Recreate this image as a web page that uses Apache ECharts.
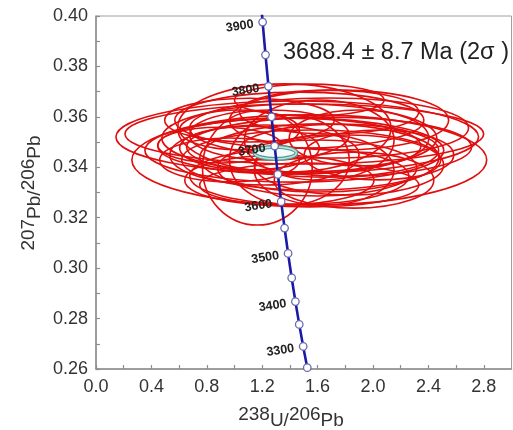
<!DOCTYPE html>
<html>
<head>
<meta charset="utf-8">
<script src="https://cdn.jsdelivr.net/npm/echarts@6/dist/echarts.min.js"></script>
<style>
html,body{margin:0;padding:0;background:#fff;}
#chart{width:513px;height:430px;}
</style>
</head>
<body>
<div id="chart"></div>
<script>
// Concordia (Tera-Wasserburg) age marks, Ma
const ages  = [3950, 3900, 3850, 3800, 3750, 3700, 3650, 3600, 3550, 3500, 3450, 3400, 3350, 3300, 3250];
const concX = [1.18275, 1.20304, 1.22387, 1.24527, 1.26725, 1.28984, 1.31307, 1.33697, 1.36155, 1.38686, 1.41291, 1.43975, 1.46742, 1.49594, 1.52535];
const concY = [0.41105, 0.39759, 0.38461, 0.37210, 0.36003, 0.34840, 0.33715, 0.32635, 0.31590, 0.30583, 0.29611, 0.28674, 0.27769, 0.26897, 0.26054];

// Analysis error ellipses: centre (238U/206Pb, 207Pb/206Pb) and half-axes
const ellCx = [1.453, 1.504, 1.540, 1.432, 1.396, 1.468, 1.360, 1.216, 1.468, 1.683, 1.612, 1.468, 1.165, 1.755, 1.827, 1.683, 1.252, 1.108, 1.612, 1.899, 1.324, 1.036, 1.540, 1.863, 0.964, 1.396, 2.043, 1.108, 1.755, 0.892, 1.540, 1.647, 1.683, 1.554, 1.597];
const ellCy = [0.3520, 0.3532, 0.3429, 0.3468, 0.3484, 0.3516, 0.3556, 0.3449, 0.3587, 0.3556, 0.3437, 0.3365, 0.3397, 0.3468, 0.3409, 0.3619, 0.3528, 0.3476, 0.3508, 0.3516, 0.3349, 0.3548, 0.3330, 0.3349, 0.3429, 0.3429, 0.3449, 0.3587, 0.3587, 0.3488, 0.3667, 0.3389, 0.3480, 0.3429, 0.3397];
const ellRx = [1.309, 1.295, 1.281, 1.079, 0.950, 0.993, 0.770, 0.683, 0.899, 1.007, 0.863, 0.791, 0.396, 0.719, 0.683, 0.647, 0.576, 0.504, 0.540, 0.504, 0.683, 0.432, 0.791, 0.576, 0.504, 0.432, 0.540, 0.612, 0.791, 0.446, 0.540, 0.504, 1.029, 0.935, 0.719];
const ellRy = [0.0143, 0.0119, 0.0179, 0.0127, 0.0111, 0.0135, 0.0175, 0.0119, 0.0111, 0.0119, 0.0135, 0.0111, 0.0226, 0.0103, 0.0119, 0.0087, 0.0099, 0.0087, 0.0159, 0.0111, 0.0099, 0.0079, 0.0087, 0.0111, 0.0087, 0.0178, 0.0099, 0.0087, 0.0119, 0.0071, 0.0063, 0.0139, 0.0119, 0.0119, 0.0111];

// Concordia age ellipse
const ageCx = [1.2955];
const ageCy = [0.3457];
const ageRx = [0.151];
const ageRy = [0.0024];

const ageText = '3688.4 \u00b1 8.7 Ma (2\u03c3 )';
// axis titles: [text, isSuperscript]
const xTitleParts = [['238', true], ['U/', false], ['206', true], ['Pb', false]];
const yTitleParts = [['207', true], ['Pb/', false], ['206', true], ['Pb', false]];

const FONT = '"Liberation Sans", Arial, Helvetica, sans-serif';
const TITLE_SIZE = 19;

const chart = echarts.init(document.getElementById('chart'), null, {renderer: 'canvas'});

const mctx = document.createElement('canvas').getContext('2d');
function textWidth(t, size) {
  mctx.font = size + 'px ' + FONT;
  return mctx.measureText(t).width;
}

// builds a group of text pieces with raised superscripts, centred at local origin
function titleGroup(parts, x, y, rotation) {
  const widths = parts.map(p => textWidth(p[0], TITLE_SIZE));
  const total = widths.reduce((a, b) => a + b, 0);
  let cur = -total / 2;
  const children = parts.map((p, i) => {
    const el = {
      type: 'text', x: cur, y: p[1] ? -6.5 : 0,
      style: {text: p[0], fontSize: TITLE_SIZE, fontFamily: FONT, fill: '#333', align: 'left', verticalAlign: 'middle'}
    };
    cur += widths[i];
    return el;
  });
  return {type: 'group', x: x, y: y, rotation: rotation || 0, z: 100, children: children};
}

function ellipseRenderer(stroke, width, fill) {
  return function (params, api) {
    const c = api.coord([api.value(0), api.value(1)]);
    const s = api.size([api.value(2), api.value(3)]);
    return {
      type: 'ellipse',
      shape: {cx: c[0], cy: c[1], rx: s[0], ry: s[1]},
      style: {fill: fill || 'none', stroke: stroke, lineWidth: width}
    };
  };
}

const redData = ellCx.map((v, i) => [v, ellCy[i], ellRx[i], ellRy[i]]);
const ageData = ageCx.map((v, i) => [v, ageCy[i], ageRx[i], ageRy[i]]);

const concData = ages.map((a, i) => ({
  value: [concX[i], concY[i]],
  symbol: i === 0 ? 'none' : 'circle',
  label: {show: i > 0 && a % 100 === 0}
}));

const axisGray = '#8d8d8d';

chart.setOption({
  animation: false,
  backgroundColor: '#fff',
  grid: {left: 96, right: 1.5, top: 16, bottom: 61, show: true, borderColor: '#a0a0a0', borderWidth: 1, backgroundColor: 'transparent'},
  xAxis: {
    type: 'value', min: 0, max: 3.0, interval: 0.2,
    axisLine: {show: true, onZero: false, lineStyle: {color: axisGray, width: 1.5}},
    axisTick: {show: true, inside: true, length: 4, lineStyle: {color: axisGray, width: 1.2}},
    splitLine: {show: false},
    axisLabel: {
      margin: 9, color: '#333', fontSize: 18, fontFamily: FONT, showMaxLabel: false,
      formatter: v => (Math.round(v * 10) % 4 === 0 ? v.toFixed(1) : '')
    }
  },
  yAxis: {
    type: 'value', min: 0.26, max: 0.40, interval: 0.02,
    axisLine: {show: true, onZero: false, lineStyle: {color: axisGray, width: 1.5}},
    axisTick: {show: true, inside: true, length: 4, lineStyle: {color: axisGray, width: 1.2}},
    minorTick: {show: true, splitNumber: 2, length: 4, lineStyle: {color: axisGray, width: 1.2}},
    splitLine: {show: false},
    axisLabel: {margin: 8, color: '#333', fontSize: 18, fontFamily: FONT, formatter: v => v.toFixed(2)}
  },
  graphic: [
    {
      type: 'text', left: 283, top: 41, z: 100,
      style: {text: ageText, fontSize: 23.5, fontFamily: FONT, fill: '#222'}
    },
    titleGroup(xTitleParts, 291, 421, 0),
    titleGroup(yTitleParts, 35, 193, Math.PI / 2)
  ],
  series: [
    {
      type: 'custom', name: 'analyses', z: 2, clip: true,
      encode: {x: 0, y: 1},
      renderItem: ellipseRenderer('#e00e0e', 1.6),
      data: redData
    },
    {
      type: 'custom', name: 'ageOuter', z: 3,
      encode: {x: 0, y: 1},
      renderItem: ellipseRenderer('#4f9a92', 4, '#f4fbfa'),
      data: ageData
    },
    {
      type: 'custom', name: 'ageInner', z: 3,
      encode: {x: 0, y: 1},
      renderItem: ellipseRenderer('#b9e2dc', 1.6),
      data: ageData
    },
    {
      type: 'line', name: 'concordia', z: 5, clip: true,
      data: concData,
      symbol: 'circle', symbolSize: 7.5,
      itemStyle: {color: '#ffffff', borderColor: '#6a6ab0', borderWidth: 1.3},
      lineStyle: {color: '#1a1aa6', width: 2.6},
      label: {
        position: 'left', distance: 5, rotate: 9,
        fontSize: 12.5, fontWeight: 'bold', fontFamily: FONT, color: '#222',
        offset: [0, 2],
        formatter: p => String(ages[p.dataIndex])
      },
      emphasis: {disabled: true}
    }
  ]
});
</script>
</body>
</html>
